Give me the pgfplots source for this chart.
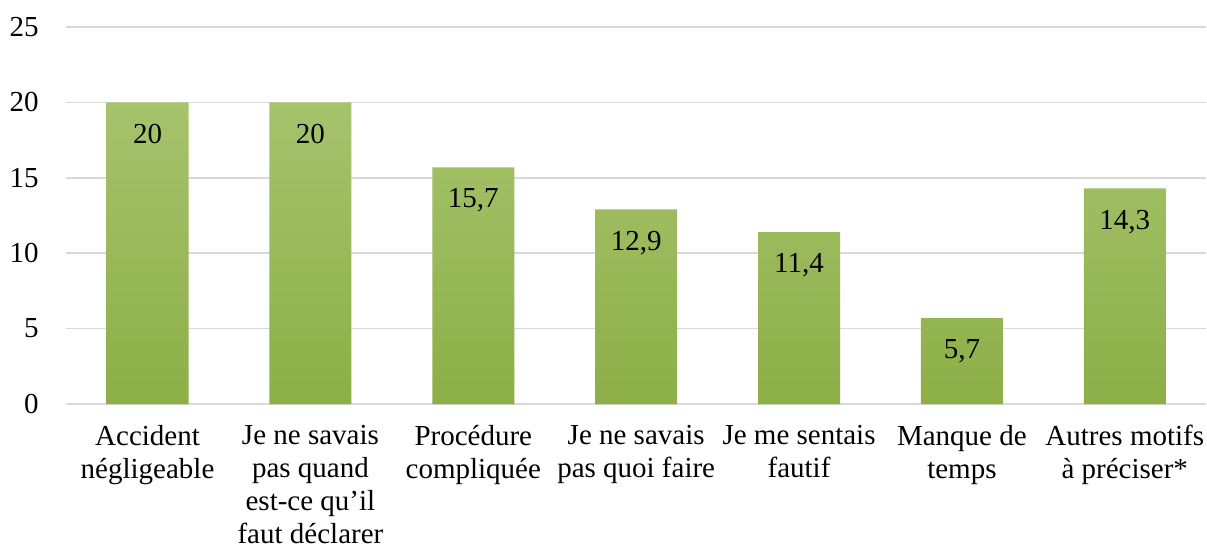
\documentclass[border=0pt]{standalone}
\usepackage{pgfplots}
\pgfplotsset{compat=1.18}
\usepackage{fontspec}
\setmainfont{Liberation Serif}
\definecolor{bartop}{HTML}{A6C36D}
\definecolor{barbot}{HTML}{8CAF47}
\definecolor{gridgray}{HTML}{D9D9D9}

\begin{document}
\fontsize{14.5pt}{16.5pt}\selectfont
\begin{tikzpicture}
\begin{axis}[
    scale only axis,
    width=570pt, height=188.5pt,
    xmin=-0.5, xmax=6.5,
    ymin=0, ymax=25,
    ytick={0,5,10,15,20,25},
    xtick=data,
    xticklabels={{Accident\\négligeable},
                 {Je ne savais\\pas quand\\est-ce qu’il\\faut déclarer},
                 {Procédure\\compliquée},
                 {Je ne savais\\pas quoi faire},
                 {Je me sentais\\fautif},
                 {Manque de\\temps},
                 {Autres motifs\\à préciser*}},
    x tick label style={align=center, font=\fontsize{14.5pt}{16.5pt}\selectfont,
        inner ysep=2pt, inner xsep=1pt, yshift=-8.4pt},
    y tick label style={font=\fontsize{14.5pt}{16.5pt}\selectfont, xshift=-8.7pt},
    major tick length=0pt,
    axis line style={draw=none},
    ymajorgrids,
    grid style={gridgray, line width=0.8pt},
    /pgf/number format/assume math mode=true,
    /pgf/number format/use comma,
    /pgf/number format/fixed,
    /pgf/number format/precision=1,
    nodes near coords,
    every node near coord/.append style={anchor=north, yshift=-5.7pt,
        font=\fontsize{14.5pt}{16.5pt}\selectfont, text=black},
    clip=false,
]
\addplot[ybar, bar width=41pt, draw=none, top color=bartop, bottom color=barbot]
coordinates {
    (0,20) (1,20) (2,15.7) (3,12.9) (4,11.4) (5,5.7) (6,14.3)
};
\end{axis}
\path (current axis.north west) ++(0,13.5pt) coordinate (topmargin);
\end{tikzpicture}
\end{document}
